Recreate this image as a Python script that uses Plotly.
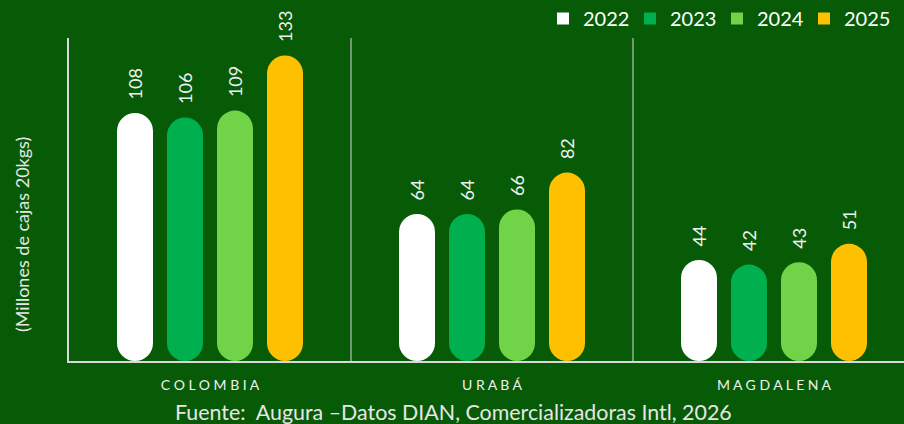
import plotly.graph_objects as go

categories = ["COLOMBIA", "URABÁ", "MAGDALENA"]
years = ["2022", "2023", "2024", "2025"]
values = {
    "2022": [108, 64, 44],
    "2023": [106, 64, 42],
    "2024": [109, 66, 43],
    "2025": [133, 82, 51],
}
colors = {"2022": "#ffffff", "2023": "#00b04f", "2024": "#70d348", "2025": "#ffc000"}

FONT = "Lato"
BG = "#075b07"
LINE = "#d8d8d8"

W = 36 / 282.0
STEP = 50 / 282.0
xs = list(range(len(categories)))

fig = go.Figure()
annotations = []
for j, yr in enumerate(years):
    vals = values[yr]
    center = (j - 1.5) * STEP
    off = center - W / 2
    fig.add_trace(go.Bar(
        x=xs, y=vals, base=[0] * len(vals),
        width=W, offset=off,
        marker=dict(color=colors[yr], line=dict(width=0), cornerradius="50%"),
        name=yr, legendgroup=yr, showlegend=False,
        hovertemplate="%{y}<extra>" + yr + "</extra>"))
    # legend entry (square swatch)
    fig.add_trace(go.Bar(
        x=[None], y=[None], marker=dict(color=colors[yr], line=dict(width=0)),
        name=yr, legendgroup=yr, showlegend=True, hoverinfo="skip"))
    for i, v in enumerate(vals):
        annotations.append(dict(
            x=i + center, y=v, xref="x", yref="y", text=str(v), showarrow=False,
            textangle=-90, xanchor="center", yanchor="bottom", yshift=11,
            font=dict(family=FONT, size=18, color="#f2f2f2")))

annotations.append(dict(
    x=-0.0563, y=0.393, xref="paper", yref="paper", text="(Millones de cajas 20kgs)",
    showarrow=False, textangle=-90, xanchor="center", yanchor="middle",
    font=dict(family=FONT, size=18, color="#e6e6e6")))
annotations.append(dict(
    x=0.461, y=-0.158, xref="paper", yref="paper",
    text="Fuente:  Augura –Datos DIAN, Comercializadoras Intl, 2026",
    showarrow=False, xanchor="center", yanchor="middle",
    font=dict(family=FONT, size=21.4, color="#e6e6e6")))

shapes = []
for sx in [0.5, 1.5]:
    shapes.append(dict(type="line", xref="x", yref="paper", x0=sx, x1=sx, y0=0, y1=1,
                       line=dict(color=LINE, width=1)))

spaced = [" ".join(list(c)) for c in categories]

fig.update_layout(
    width=904, height=424,
    margin=dict(l=69, r=0, t=38, b=63, autoexpand=False),
    paper_bgcolor=BG, plot_bgcolor=BG,
    barmode="overlay",
    showlegend=True,
    legend=dict(orientation="h", x=(543 - 69) / 835.0, xanchor="left", y=1.0, yanchor="bottom",
                yref="paper", font=dict(family=FONT, size=20, color="#ffffff"),
                bgcolor="rgba(0,0,0,0)", itemclick=False, itemdoubleclick=False,
                traceorder="normal", entrywidth=42, entrywidthmode="pixels"),
    xaxis=dict(range=[-0.5, -0.5 + 835 / 282.0], tickvals=xs, ticktext=spaced,
               showgrid=False, zeroline=False, showline=True, linecolor=LINE, linewidth=1.5,
               ticks="", ticklabelstandoff=10,
               tickfont=dict(family=FONT, size=14, color="#f0f0f0"), fixedrange=True),
    yaxis=dict(range=[0, 140.6], showgrid=False, zeroline=False, showticklabels=False,
               showline=True, linecolor=LINE, linewidth=1.5, ticks="", fixedrange=True),
    annotations=annotations,
    shapes=shapes,
    font=dict(family=FONT, color="#ffffff"),
)

fig.write_html("out.html", config={"displayModeBar": False},
               post_script="document.body.style.margin='0px';")
